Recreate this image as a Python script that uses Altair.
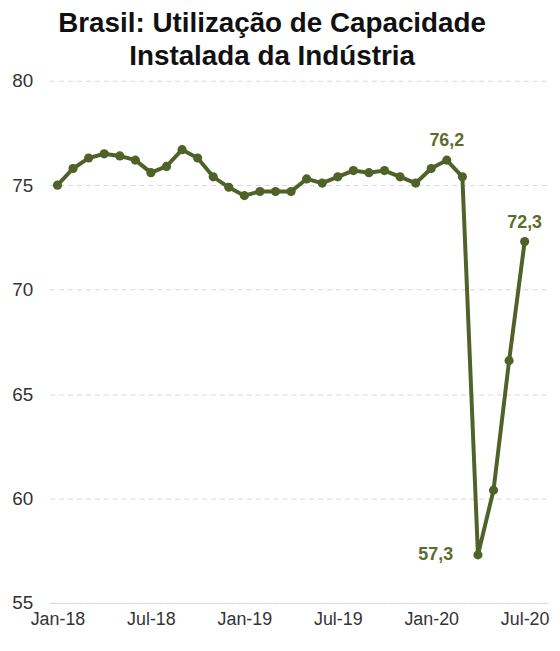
import altair as alt
import pandas as pd

months = ["Jan-18", "Feb-18", "Mar-18", "Apr-18", "May-18", "Jun-18", "Jul-18", "Aug-18",
          "Sep-18", "Oct-18", "Nov-18", "Dec-18", "Jan-19", "Feb-19", "Mar-19", "Apr-19",
          "May-19", "Jun-19", "Jul-19", "Aug-19", "Sep-19", "Oct-19", "Nov-19", "Dec-19",
          "Jan-20", "Feb-20", "Mar-20", "Apr-20", "May-20", "Jun-20", "Jul-20"]
values = [75.0, 75.8, 76.3, 76.5, 76.4, 76.2, 75.6, 75.9, 76.7, 76.3, 75.4, 74.9,
          74.5, 74.7, 74.7, 74.7, 75.3, 75.1, 75.4, 75.7, 75.6, 75.7, 75.4, 75.1,
          75.8, 76.2, 75.4, 57.3, 60.4, 66.6, 72.3]
labels_above = {"Feb-20": "76,2", "Jul-20": "72,3"}
labels_left = {"Apr-20": "57,3"}
tick_months = ["Jan-18", "Jul-18", "Jan-19", "Jul-19", "Jan-20", "Jul-20"]
y_ticks = [55, 60, 65, 70, 75, 80]

df = pd.DataFrame({
    "idx": list(range(len(months))),
    "month": months,
    "value": values,
    "above": [labels_above.get(m, "") for m in months],
    "left": [labels_left.get(m, "") for m in months],
})

tick_idx = [months.index(m) for m in tick_months]
label_expr = "[" + ",".join(f"'{m}'" for m in months) + "][datum.value]"

FONT = "Liberation Sans"
GREEN = "#4f6228"
LABEL_GREEN = "#5a6e2c"

x = alt.X("idx:Q",
          scale=alt.Scale(domain=[-0.5, 31.5], nice=False, zero=False),
          axis=alt.Axis(values=tick_idx, labelExpr=label_expr, title=None, grid=False,
                        ticks=False, domainColor="#d9d9d9", domainWidth=1,
                        labelFontSize=18, labelFont=FONT, labelColor="#333333",
                        labelPadding=8))
y = alt.Y("value:Q",
          scale=alt.Scale(domain=[55, 80], nice=False, zero=False),
          axis=alt.Axis(values=y_ticks, title=None, domain=False, ticks=False,
                        grid=True, gridColor="#d9d9d9", gridDash=[5, 4], gridWidth=1,
                        labelFontSize=19, labelFont=FONT, labelColor="#333333",
                        labelPadding=17))

base = alt.Chart(df)
line = base.mark_line(color=GREEN, strokeWidth=4).encode(x=x, y=y)
pts = base.mark_point(filled=True, size=85, color=GREEN, opacity=1).encode(x=x, y=y)
txt_above = base.transform_filter("datum.above != ''").mark_text(
    dy=-19, fontSize=18, fontWeight="bold", font=FONT, color=LABEL_GREEN
).encode(x=x, y=y, text="above:N")
txt_left = base.transform_filter("datum.left != ''").mark_text(
    dx=-25, align="right", fontSize=18, fontWeight="bold", font=FONT, color=LABEL_GREEN
).encode(x=x, y=y, text="left:N")

chart = alt.layer(line, pts, txt_above, txt_left).properties(
    width=502, height=526,
    padding={"left": 3, "right": 3, "top": 0, "bottom": 0},
    title=alt.TitleParams(["Brasil: Utilização de Capacidade", "Instalada da Indústria"],
                          fontSize=28, font=FONT, fontWeight="bold", color="#111111",
                          anchor="middle", dx=-27, offset=1, lineHeight=33),
).configure_view(stroke=None)

chart.save("out.html", embed_options={"renderer": "svg", "actions": False})
